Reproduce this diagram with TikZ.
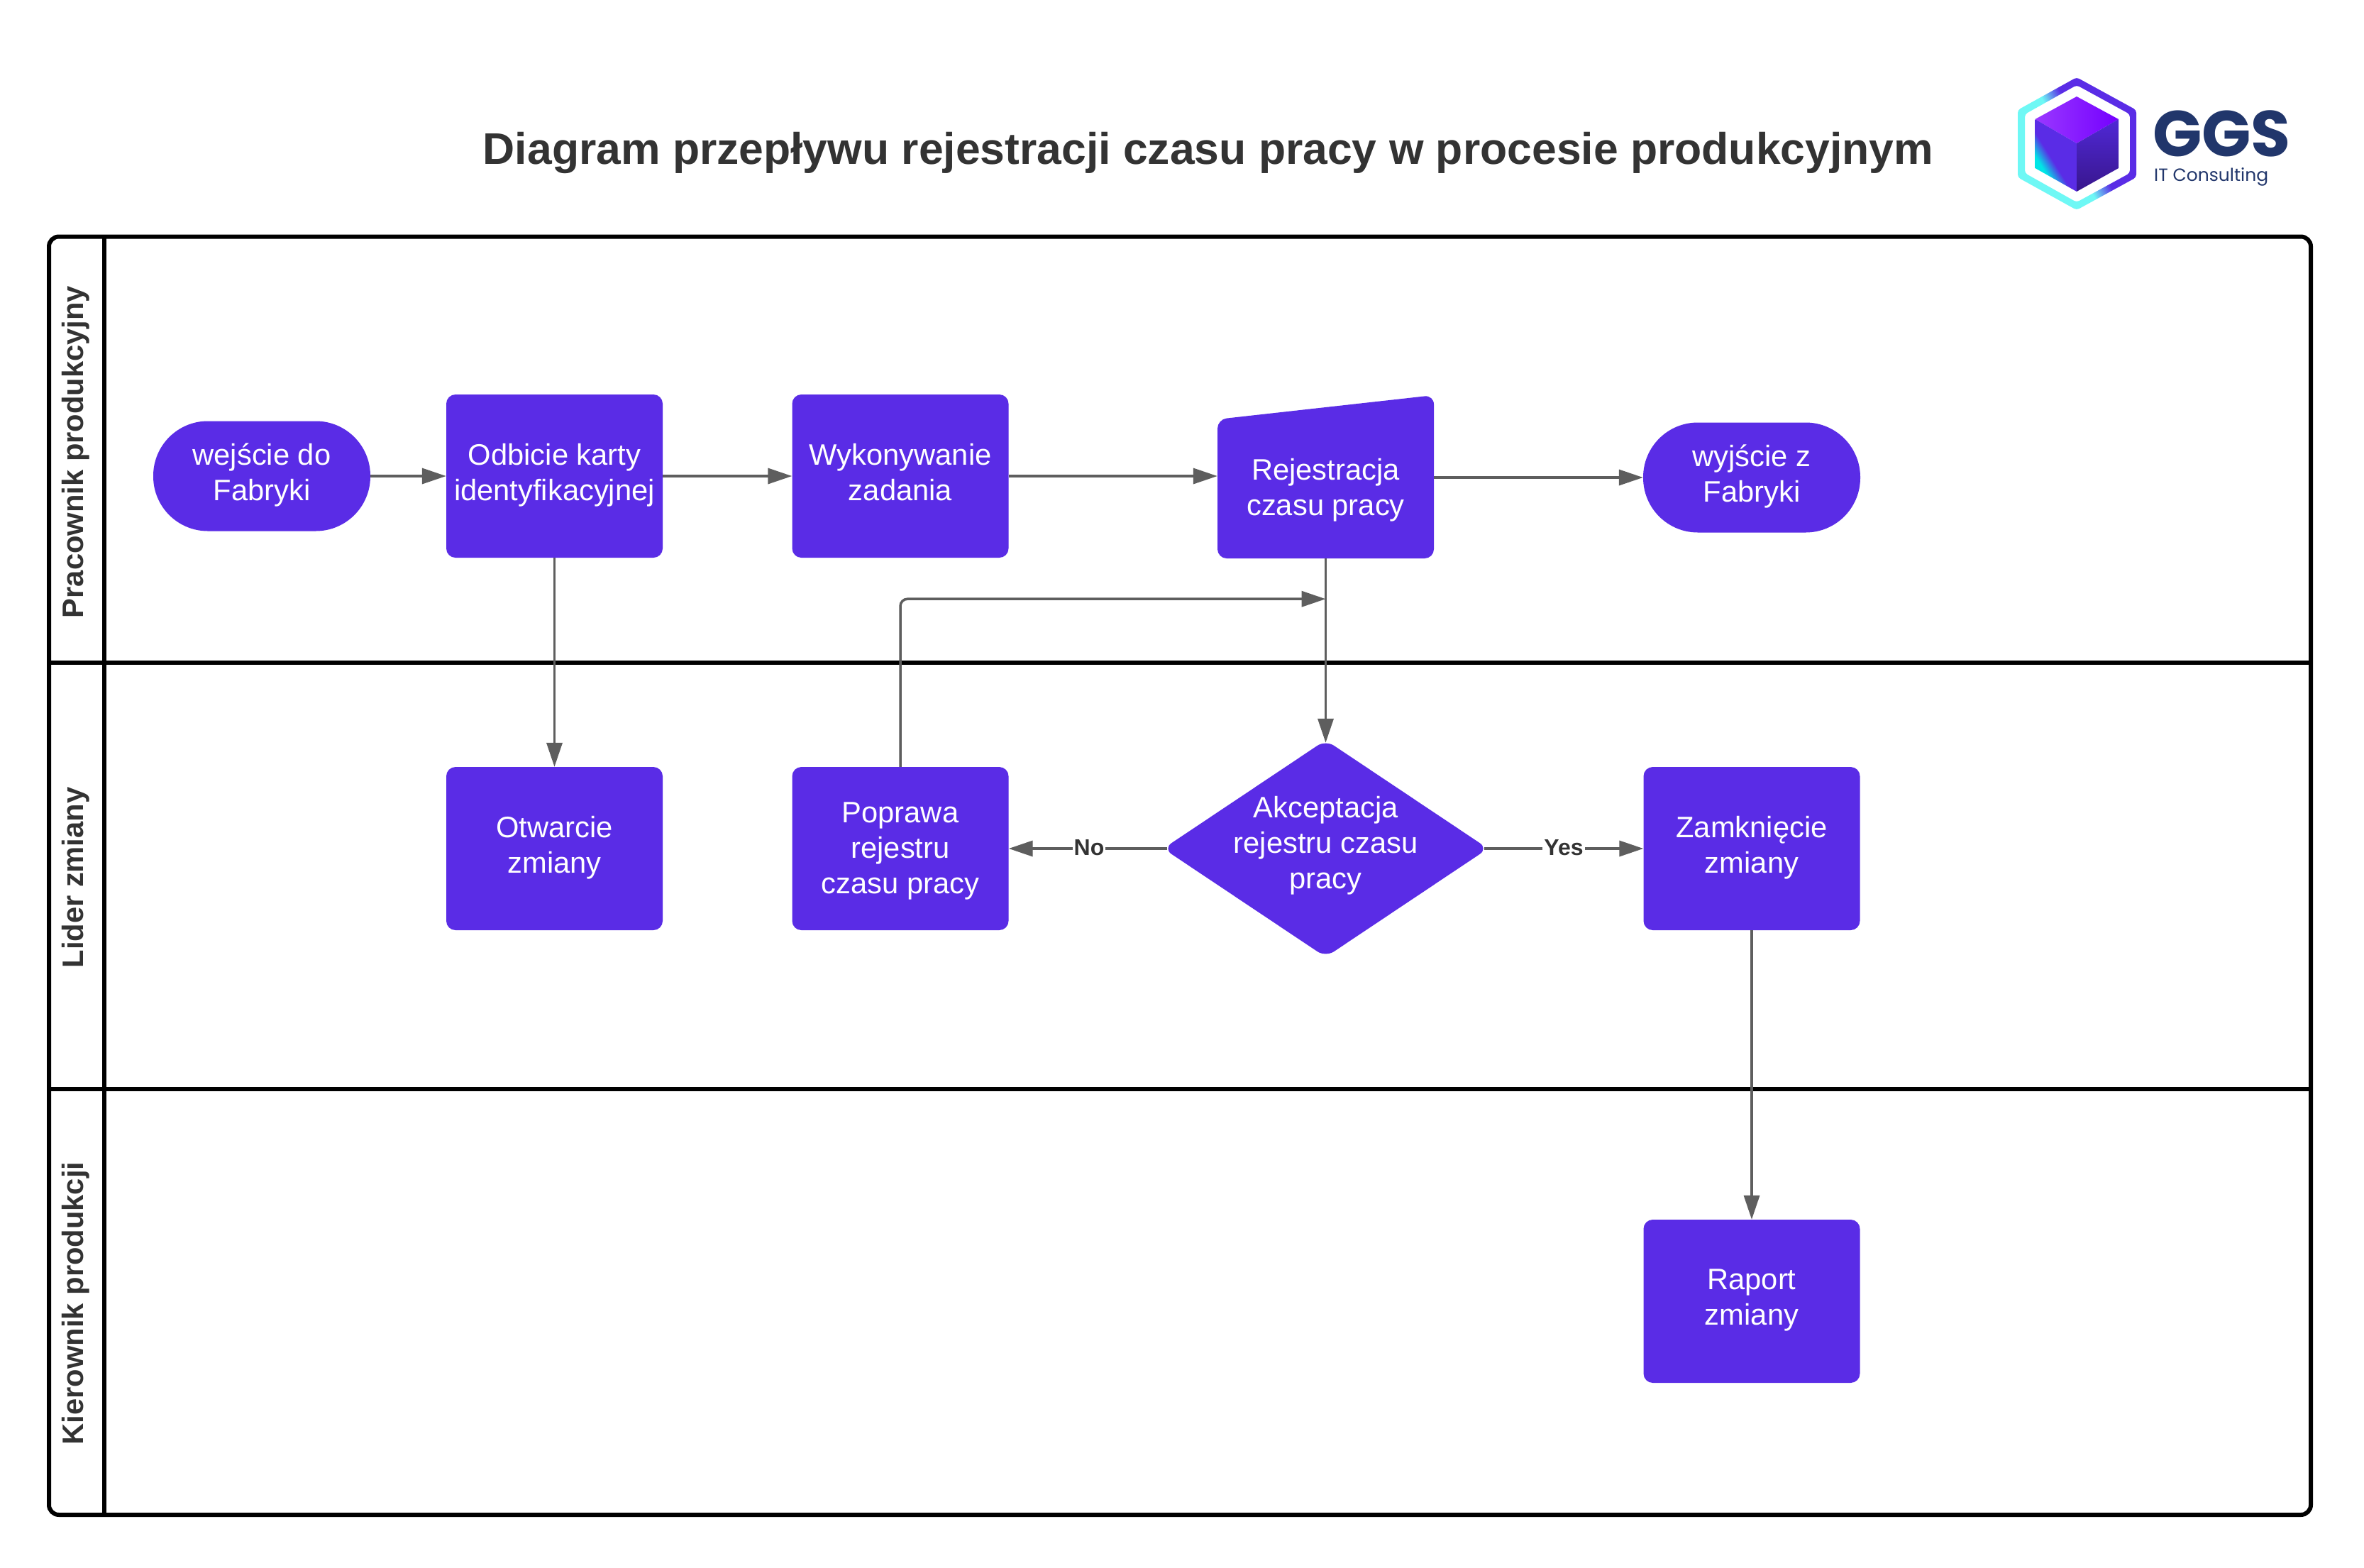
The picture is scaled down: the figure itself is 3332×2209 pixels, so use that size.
\documentclass[tikz,border=0pt]{standalone}
\usepackage{fontspec}
\setmainfont{Liberation Sans}
\newfontfamily\logofont{Poppins}
\usetikzlibrary{arrows.meta,shapes.geometric,calc,backgrounds}
\definecolor{brandviolet}{HTML}{5A2CE6}
\definecolor{flowgrey}{HTML}{5E5E5E}
\definecolor{inkdark}{HTML}{333333}
\definecolor{logonavy}{HTML}{21366B}
\definecolor{logocyan}{HTML}{6EF8F5}
\definecolor{cubecyan}{HTML}{00E6E6}
\definecolor{cubelight}{HTML}{9A38FF}
\definecolor{cubevivid}{HTML}{7400FF}
\definecolor{cuberighttop}{HTML}{5028D6}
\definecolor{cuberightbottom}{HTML}{38168C}
\pgfdeclarehorizontalshading{ringshade}{100bp}{color(0bp)=(logocyan); color(46bp)=(logocyan); color(54bp)=(brandviolet); color(100bp)=(brandviolet)}
\pgfdeclarehorizontalshading{leftfaceshade}{100bp}{color(0bp)=(cubecyan); color(33bp)=(cubecyan); color(45bp)=(brandviolet); color(100bp)=(brandviolet)}
\newcommand{\flowstrut}{\rule[-12pt]{0pt}{43pt}}
\tikzset{
  lanerule/.style={line width=6pt,black},
  flowtext/.style={inner sep=0pt,text=white,align=center,font=\fontsize{41.7}{50}\selectfont},
  strutted/.style={execute at begin node={\flowstrut},execute at end node={\flowstrut}},
  procbox/.style={rectangle,fill=brandviolet,rounded corners=13pt,minimum width=305pt,minimum height=230pt,flowtext,strutted},
  terminal/.style={rectangle,fill=brandviolet,rounded corners=77pt,minimum width=306pt,minimum height=155pt,flowtext,strutted},
  decisionbox/.style={diamond,fill=brandviolet,rounded corners=14pt,minimum width=458pt,minimum height=306pt,flowtext},
  flow/.style={draw=flowgrey,line width=3.5pt,-{Triangle[length=34pt,width=22pt]}},
  lanelabel/.style={rotate=90,text=inkdark,font=\fontsize{41.7}{50}\bfseries\selectfont,inner sep=0pt},
  edgelabel/.style={fill=white,text=inkdark,font=\fontsize{32}{36}\bfseries\selectfont,inner xsep=2pt,inner ysep=1pt}
}
\begin{document}
\begin{tikzpicture}[x=1pt,y=-1pt]
\useasboundingbox (0,0) rectangle (3332,2209);
\fill[white] (0,0) rectangle (3332,2209);
% title
\node[anchor=base,text=inkdark,font=\fontsize{62.45}{70}\bfseries\selectfont,inner sep=0pt] (title) at (1703,231) {Diagram przepływu rejestracji czasu pracy w procesie produkcyjnym};
% logo
\shade[even odd rule,shading=ringshade,shading angle=28,rounded corners=4pt]
  (2927,109)--(3011,155)--(3011,250)--(2927,296)--(2844,250)--(2844,155)--cycle
  (2927,120)--(3002,161)--(3002,244)--(2927,285)--(2854,244)--(2854,161)--cycle;
\shade[left color=cubelight,right color=cubevivid] (2927,136)--(2986,168)--(2927,202)--(2868.5,168)--cycle;
\begin{scope}
  \clip (2868.5,168)--(2927,202)--(2927,270)--(2868.5,237)--cycle;
  \shade[shading=leftfaceshade,shading angle=32] (2868.5,168) rectangle (2927,270);
\end{scope}
\shade[top color=cuberighttop,bottom color=cuberightbottom] (2927,202)--(2986,168)--(2986,237)--(2927,270)--cycle;
\node[anchor=base west,text=logonavy,font=\fontsize{91}{94}\logofont\bfseries\selectfont,inner sep=0pt] (ggs) at (3034,220) {GGS};
\node[anchor=base west,text=logonavy,font=\fontsize{25}{30}\logofont\selectfont,inner sep=0pt] (itc) at (3036,255) {IT Consulting};
% swimlanes
\draw[lanerule,rounded corners=14pt] (69,333.5) rectangle (3257,2135);
\draw[lanerule] (147,333.5)--(147,2135);
\draw[lanerule] (69,934)--(3257,934);
\draw[lanerule] (69,1535)--(3257,1535);
\node[lanelabel,anchor=base] (laneA) at (117,637) {Pracownik produkcyjny};
\node[lanelabel,anchor=base] (laneB) at (117,1237) {Lider zmiany};
\node[lanelabel,anchor=base] (laneC) at (117,1837) {Kierownik produkcji};
% nodes
\node[terminal] (wej) at (369,671) {wejście do\\Fabryki};
\node[procbox] (odb) at (781.5,671) {Odbicie karty\\identyfikacyjnej};
\node[procbox] (wyk) at (1269,671) {Wykonywanie\\zadania};
\fill[brandviolet,rounded corners=13pt] (1716,787)--(1716,591)--(2021,557)--(2021,787)--cycle;
\node[procbox,fill=none,minimum height=189pt] (rej) at (1868.5,692.5) {Rejestracja\\czasu pracy};
\node[terminal] (wyj) at (2469,673) {wyjście z\\Fabryki};
\node[procbox] (otw) at (781.5,1196) {Otwarcie\\zmiany};
\node[procbox] (pop) at (1269,1196) {\rule{0pt}{39pt}Poprawa\\rejestru\\czasu pracy};
\node[decisionbox] (dec) at (1868.5,1196) {\smash{\makebox[0pt]{\raisebox{-3pt}{\begin{tabular}{@{}c@{}}Akceptacja\\rejestru czasu\\pracy\end{tabular}}}}};
\node[procbox] (zam) at (2469,1196) {Zamknięcie\\zmiany};
\node[procbox] (rap) at (2469,1834) {Raport\\zmiany};
\coordinate (loopend) at ($(rej.south)+(0,57)$);
% connectors
\draw[flow] (wej.east)--(odb.west);
\draw[flow] (odb.east)--(wyk.west);
\draw[flow] (wyk.east)--(wyk.east -| rej.west);
\draw[flow] (rej.east |- wyj.west)--(wyj.west);
\draw[flow] (odb.south)--(otw.north);
\draw[flow] (rej.south)--([yshift=-4pt]dec.north);
\draw[flow,rounded corners=10pt] (pop.north)|-(loopend);
\draw[flow] ([xshift=6pt]dec.west)--(pop.east) node[edgelabel] (no) at (1535,1195) {No};
\draw[flow] ([xshift=-6pt]dec.east)--(zam.west) node[edgelabel] (yes) at (2204,1195) {Yes};
\draw[flow] (zam.south)--(rap.north);
\end{tikzpicture}
\end{document}
